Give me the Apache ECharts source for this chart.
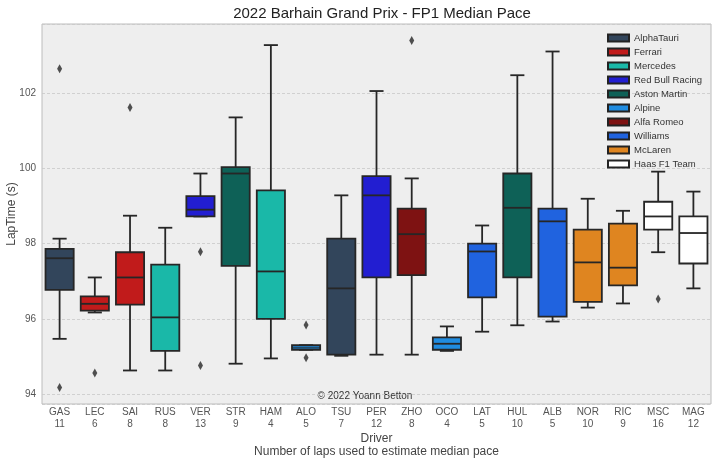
<!DOCTYPE html>
<html>
<head>
<meta charset="utf-8">
<script src="https://cdn.jsdelivr.net/npm/echarts@6/dist/echarts.min.js"></script>
<style>html,body{margin:0;padding:0;background:#fff}#c{width:718px;height:460px}</style>
</head>
<body>
<div id="c"></div>
<script>
const drivers = ['GAS','LEC','SAI','RUS','VER','STR','HAM','ALO','TSU','PER','ZHO','OCO','LAT','HUL','ALB','NOR','RIC','MSC','MAG'];
const laps = [11,6,8,8,13,9,4,5,7,12,8,4,5,10,5,10,9,16,12];
const driverTeam = ['AlphaTauri','Ferrari','Ferrari','Mercedes','Red Bull Racing','Aston Martin','Mercedes','Alpine','AlphaTauri','Red Bull Racing','Alfa Romeo','Alpine','Williams','Aston Martin','Williams','McLaren','McLaren','Haas F1 Team','Haas F1 Team'];
const teams = ['AlphaTauri','Ferrari','Mercedes','Red Bull Racing','Aston Martin','Alpine','Alfa Romeo','Williams','McLaren','Haas F1 Team'];
const teamColors = ['#32455b','#c11b1b','#1ab8a8','#221ed1','#0e6157','#208ce0','#7e1212','#2063df','#df8520','#ffffff'];
const whiskerLow = [95.47,96.17,94.63,94.63,98.72,94.81,94.95,95.18,95.02,95.05,95.05,95.15,95.66,95.83,95.93,96.30,96.41,97.77,96.81];
const q1 =         [96.77,96.22,96.38,95.15,98.72,97.41,96.00,95.18,95.05,97.10,97.16,95.18,96.57,97.10,96.06,96.45,96.89,98.37,97.47];
const median =     [97.61,96.40,97.10,96.04,98.90,99.86,97.26,95.23,96.81,99.28,98.25,95.34,97.79,98.95,98.59,97.50,97.36,98.72,98.28];
const q3 =         [97.86,96.60,97.77,97.44,99.26,100.03,99.41,95.30,98.13,99.79,98.93,95.51,98.00,99.86,98.93,98.37,98.53,99.11,98.72];
const whiskerHigh =[98.13,97.10,98.74,98.42,99.86,101.35,103.27,95.30,99.28,102.05,99.73,95.80,98.48,102.47,103.10,99.19,98.87,99.91,99.38];
const outlierDriver = ['GAS','GAS','LEC','SAI','VER','VER','ALO','ALO','ZHO','MSC'];
const outlierValue = [102.64,94.18,94.56,101.61,97.78,94.76,95.84,94.97,103.39,96.53];

const colorOf = d => teamColors[teams.indexOf(driverTeam[drivers.indexOf(d)])];
const boxData = drivers.map((d, i) => ({
  value: [i, whiskerLow[i], q1[i], median[i], q3[i], whiskerHigh[i]],
  itemStyle: { color: colorOf(d) }
}));
const outData = outlierDriver.map((d, i) => [drivers.indexOf(d), outlierValue[i]]);

const LINE = '#262626';
function renderBox(params, api) {
  const x = api.value(0);
  const p = [1,2,3,4,5].map(k => api.coord([x, api.value(k)]));
  const cx = p[0][0];
  const bw = api.size([1, 0])[0] * 0.8;
  const cap = bw / 4;
  const col = api.visual('color');
  const st = { stroke: LINE, lineWidth: 1.8, fill: null };
  const medStyle = { stroke: LINE, lineWidth: p[1][1] - p[3][1] < 6 ? 1 : 1.8, fill: null };
  return {
    type: 'group',
    children: [
      { type: 'line', shape: { x1: cx, y1: p[0][1], x2: cx, y2: p[1][1] }, style: st },
      { type: 'line', shape: { x1: cx, y1: p[3][1], x2: cx, y2: p[4][1] }, style: st },
      { type: 'line', shape: { x1: cx - cap, y1: p[0][1], x2: cx + cap, y2: p[0][1] }, style: st },
      { type: 'line', shape: { x1: cx - cap, y1: p[4][1], x2: cx + cap, y2: p[4][1] }, style: st },
      { type: 'rect', shape: { x: cx - bw / 2, y: p[3][1], width: bw, height: p[1][1] - p[3][1] },
        style: { fill: col, stroke: LINE, lineWidth: 1.8 } },
      { type: 'line', shape: { x1: cx - bw / 2, y1: p[2][1], x2: cx + bw / 2, y2: p[2][1] }, style: medStyle }
    ]
  };
}

const legendSeries = teams.map((t, i) => ({
  name: t, type: 'bar', data: [],
  itemStyle: { color: teamColors[i], borderColor: '#222', borderWidth: 1 }
}));

const FONT = 'Liberation Sans, Arial, sans-serif';
const chart = echarts.init(document.getElementById('c'));
chart.setOption({
  animation: false,
  backgroundColor: '#ffffff',
  textStyle: { fontFamily: FONT },
  title: {
    text: '2022 Barhain Grand Prix - FP1 Median Pace',
    left: 377, top: 1, textAlign: 'center',
    textStyle: { fontSize: 15, fontWeight: 'normal', color: '#222', fontFamily: FONT }
  },
  legend: {
    orient: 'vertical', left: 602, top: 27,
    icon: 'rect', itemWidth: 21, itemHeight: 7, itemGap: 2,
    textStyle: { fontSize: 9.5, color: '#333', lineHeight: 12, fontFamily: FONT },
    data: teams
  },
  grid: {
    left: 42, right: 7, top: 24, bottom: 56,
    outerBoundsMode: 'none', containLabel: false,
    show: true, backgroundColor: '#eeeeee', borderColor: '#bcbcbc', borderWidth: 1
  },
  xAxis: {
    type: 'category',
    data: drivers,
    boundaryGap: true,
    axisLine: { show: false },
    axisTick: { show: false },
    axisLabel: {
      margin: 2, fontSize: 10, color: '#555', lineHeight: 12,
      formatter: (v, i) => v + '\n' + laps[i]
    },
    name: 'Driver\nNumber of laps used to estimate median pace',
    nameLocation: 'middle', nameGap: 28, nameMoveOverlap: false,
    nameTextStyle: { fontSize: 12, color: '#444', lineHeight: 13 }
  },
  yAxis: {
    type: 'value', min: 93.74, max: 103.83, splitNumber: 5,
    axisLine: { show: false },
    axisTick: { show: false },
    axisLabel: { fontSize: 10, color: '#555', margin: 6, showMinLabel: false, showMaxLabel: false },
    splitLine: { lineStyle: { color: '#c8c8c8', type: [3, 2], width: 0.8 } },
    name: 'LapTime (s)', nameLocation: 'middle', nameGap: 24, nameMoveOverlap: false,
    nameTextStyle: { fontSize: 12, color: '#444' }
  },
  graphic: [{
    type: 'text', x: 365, y: 396,
    style: { text: '© 2022 Yoann Betton', fontSize: 10, fill: '#333', align: 'center', verticalAlign: 'middle',
             fontFamily: FONT }
  }],
  series: [
    ...legendSeries,
    { type: 'custom', name: 'pace', renderItem: renderBox, data: boxData,
      encode: { x: 0, y: [1, 2, 3, 4, 5] }, z: 3 },
    { type: 'scatter', name: 'outliers', data: outData, symbol: 'diamond', symbolSize: [5, 9],
      itemStyle: { color: '#262626' }, z: 4 }
  ]
});
</script>
</body>
</html>
